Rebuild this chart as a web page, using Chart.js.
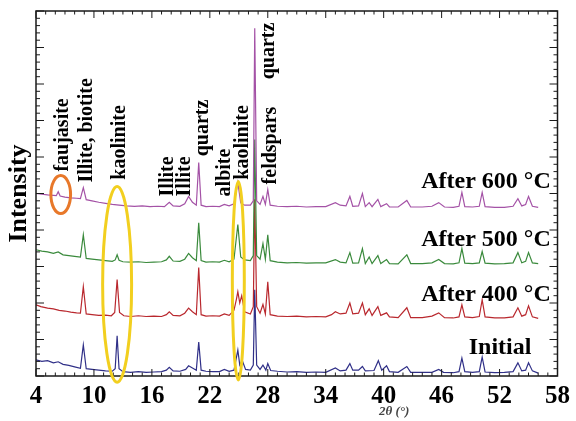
<!DOCTYPE html>
<html>
<head>
<meta charset="utf-8">
<script src="https://cdn.jsdelivr.net/npm/chart.js@4"></script>
<style>
  body { margin: 0; background: #fff; }
  #wrap { width: 576px; height: 421px; }
</style>
</head>
<body>
<div id="wrap"><canvas id="xrd" width="576" height="421"></canvas></div>
<script>
// 2θ (°) / intensité relative
const xTicks = [4, 10, 16, 22, 28, 34, 40, 46, 52, 58];
const seriesNames = ["After 600 °C", "After 500 °C", "After 400 °C", "Initial"];

const initialData = [[4,4.4],[4.6,4.0],[5.2,4.2],[5.8,3.6],[6.3,3.9],[6.8,3.2],[7.4,2.9],[8.0,2.5],[8.6,2.1],[8.9,8.5],[9.2,2.0],[9.8,1.8],[10.5,1.6],[11.2,1.4],[11.9,1.3],[12.2,2.0],[12.4,11.0],[12.6,2.0],[13.0,1.2],[13.8,1.0],[14.6,1.2],[15.4,1.0],[16.2,1.1],[17.0,1.2],[17.5,1.6],[17.8,2.4],[18.2,1.4],[18.9,1.3],[19.5,1.8],[19.8,2.8],[20.2,2.2],[20.6,1.6],[20.85,9.3],[21.1,1.6],[21.6,1.3],[22.3,1.2],[23.0,1.2],[23.5,1.8],[24.0,1.3],[24.5,1.6],[24.9,7.1],[25.1,3.0],[25.35,4.3],[25.7,1.8],[26.2,1.6],[26.5,3.0],[26.65,23.6],[26.85,3.0],[27.2,1.8],[27.5,3.0],[27.8,1.6],[28.0,3.4],[28.3,1.5],[29.0,1.3],[30.0,1.1],[31.0,1.2],[32.0,1.0],[33.0,1.1],[34.0,1.0],[35.0,2.2],[35.5,1.4],[36.1,1.6],[36.5,3.4],[36.8,1.6],[37.4,1.6],[37.8,2.6],[38.1,1.4],[39.0,1.5],[39.45,4.2],[39.8,1.6],[40.3,2.8],[40.6,1.2],[41.5,1.0],[42.4,2.6],[42.8,1.0],[44.0,1.0],[45.0,1.0],[45.7,1.8],[46.2,1.0],[47.2,0.9],[47.8,1.2],[48.1,4.9],[48.4,1.2],[49.2,1.0],[49.9,1.2],[50.2,5.2],[50.5,1.1],[51.5,0.9],[52.5,1.0],[53.4,1.2],[53.9,3.6],[54.3,1.4],[54.7,1.6],[55.0,3.6],[55.4,1.4],[56.0,0.8]];

const after400Data = [[4,19.5],[4.5,19.0],[5.2,18.6],[5.8,18.4],[6.4,18.0],[7.0,17.8],[7.6,17.5],[8.2,17.3],[8.6,17.2],[8.9,24.5],[9.2,17.0],[9.8,16.8],[10.5,16.6],[11.2,16.7],[11.8,16.5],[12.15,17.4],[12.4,26.4],[12.65,17.4],[13.1,16.5],[13.8,16.3],[14.6,16.5],[15.4,16.3],[16.2,16.4],[17.0,16.3],[17.5,16.8],[17.8,17.6],[18.2,16.6],[18.9,16.5],[19.4,17.2],[19.8,18.6],[20.2,17.6],[20.6,16.8],[20.85,29.7],[21.1,16.8],[21.6,16.4],[22.3,16.5],[23.0,16.4],[23.5,17.0],[24.0,16.6],[24.5,18.0],[24.75,21.0],[24.9,23.1],[25.1,20.0],[25.3,22.0],[25.6,17.6],[26.2,17.0],[26.5,19.0],[26.65,48.4],[26.85,19.0],[27.2,17.2],[27.5,19.6],[27.75,17.0],[28.0,25.8],[28.25,16.8],[29.0,16.4],[30.0,16.3],[31.0,16.4],[32.0,16.2],[33.0,16.3],[34.0,16.2],[34.6,16.8],[35.0,17.6],[35.5,17.0],[36.1,17.2],[36.5,20.0],[36.8,17.0],[37.4,17.2],[37.8,20.0],[38.1,16.8],[38.5,18.4],[38.8,16.6],[39.4,19.0],[39.7,16.6],[40.3,17.3],[40.6,16.2],[41.5,16.0],[42.4,18.7],[42.8,16.0],[44.0,16.0],[45.0,16.4],[45.7,17.3],[46.3,16.0],[47.2,15.9],[47.8,16.2],[48.1,19.5],[48.4,16.2],[49.2,16.0],[49.9,16.3],[50.2,20.9],[50.5,16.2],[51.5,15.9],[52.5,15.9],[53.4,16.2],[53.9,18.7],[54.3,16.4],[54.7,16.8],[55.0,19.2],[55.4,16.2],[56.0,15.8]];

const after500Data = [[4,34.6],[4.6,34.2],[5.2,34.0],[5.8,33.6],[6.3,34.0],[6.8,33.2],[7.4,33.0],[8.0,32.8],[8.6,32.6],[8.9,38.7],[9.2,32.2],[9.8,32.0],[10.5,31.8],[11.2,31.6],[11.9,31.4],[12.2,31.8],[12.4,33.2],[12.6,31.7],[13.0,31.3],[13.8,31.2],[14.6,31.3],[15.4,31.1],[16.2,31.2],[17.0,31.3],[17.5,31.8],[17.8,32.8],[18.2,31.5],[18.9,31.4],[19.4,32.0],[19.8,33.6],[20.2,32.4],[20.6,31.6],[20.85,42.0],[21.1,31.6],[21.6,31.2],[22.3,31.3],[23.0,31.2],[23.5,31.7],[24.0,31.3],[24.5,32.0],[24.9,41.5],[25.2,32.6],[25.6,31.8],[26.2,31.6],[26.5,33.0],[26.65,64.8],[26.85,33.0],[27.2,32.0],[27.5,36.3],[27.75,32.0],[28.0,38.7],[28.25,31.6],[29.0,31.2],[30.0,31.0],[31.0,31.1],[32.0,30.9],[33.0,31.0],[34.0,31.0],[35.0,31.9],[35.5,31.2],[36.1,31.0],[36.5,33.8],[36.8,30.9],[37.4,31.0],[37.8,34.9],[38.1,30.8],[38.5,32.6],[38.8,30.8],[39.4,33.0],[39.7,30.8],[40.3,31.9],[40.6,30.8],[41.5,30.7],[42.4,33.2],[42.8,30.8],[44.0,30.8],[45.0,31.0],[45.7,31.9],[46.3,30.8],[47.2,30.7],[47.8,31.0],[48.1,34.9],[48.4,30.9],[49.2,30.8],[49.9,31.0],[50.2,34.1],[50.5,30.9],[51.5,30.7],[52.5,30.8],[53.4,31.0],[53.9,33.8],[54.3,31.0],[54.7,31.4],[55.0,33.8],[55.4,31.0],[56.0,30.8]];

const after600Data = [[4,50.0],[4.6,49.8],[5.2,49.6],[5.8,49.5],[6.1,49.4],[6.3,50.5],[6.5,49.3],[7.0,49.0],[7.6,48.8],[8.2,48.7],[8.6,48.6],[8.9,51.6],[9.2,48.3],[9.8,48.0],[10.5,47.6],[11.2,47.3],[11.9,47.0],[12.6,46.8],[13.4,46.6],[14.2,46.5],[15.0,46.6],[15.8,46.4],[16.6,46.5],[17.3,46.4],[17.8,47.6],[18.2,46.6],[18.9,46.5],[19.4,47.2],[19.8,49.2],[20.2,47.6],[20.6,46.8],[20.85,58.5],[21.1,46.8],[21.6,46.4],[22.3,46.5],[23.0,46.4],[23.5,47.0],[24.0,46.6],[24.5,47.2],[24.9,53.0],[25.2,47.4],[25.6,46.8],[26.2,46.8],[26.5,48.0],[26.65,95.3],[26.85,48.0],[27.2,47.0],[27.5,49.2],[27.75,47.0],[28.0,51.1],[28.25,46.8],[29.0,46.5],[30.0,46.4],[31.0,46.5],[32.0,46.3],[33.0,46.4],[34.0,46.4],[35.0,47.5],[35.5,46.8],[36.1,46.6],[36.5,49.2],[36.8,46.5],[37.4,46.6],[37.8,50.0],[38.1,46.4],[38.5,47.5],[38.8,46.4],[39.4,48.4],[39.7,46.4],[40.3,47.2],[40.6,46.3],[41.5,46.3],[42.4,48.1],[42.8,46.3],[44.0,46.3],[45.0,46.5],[45.7,47.5],[46.3,46.3],[47.2,46.2],[47.8,46.5],[48.1,50.3],[48.4,46.4],[49.2,46.3],[49.9,46.5],[50.2,50.3],[50.5,46.4],[51.5,46.2],[52.5,46.2],[53.4,46.5],[53.9,48.6],[54.3,46.6],[54.7,47.0],[55.0,49.2],[55.4,46.5],[56.0,46.2]];

// étiquettes des phases (texte vertical) : [texte, 2θ, intensité du bas du texte]
const phaseLabels = [
  ["faujasite", 6.77, 56.0],
  ["Illite, biotite", 9.23, 53.0],
  ["kaolinite", 12.7, 53.8],
  ["Illite", 17.7, 49.2],
  ["Illite", 19.4, 49.2],
  ["quartz", 21.3, 60.2],
  ["albite", 23.6, 49.2],
  ["kaolinite", 25.4, 53.8],
  ["quartz", 28.1, 81.3],
  ["feldspars", 28.3, 52.5]
];
// noms des courbes : [texte, 2θ du bord droit, intensité]
const curveLabels = [
  [seriesNames[0], 57.3, 53.3],
  [seriesNames[1], 57.3, 37.4],
  [seriesNames[2], 57.3, 22.3],
  [seriesNames[3], 55.3, 7.7]
];
// ellipses : [centre 2θ, centre intensité, rayon 2θ, rayon intensité, couleur]
const ellipses = [
  [6.56, 49.7, 1.02, 5.2, '#e8782a'],
  [12.4, 25.1, 1.5, 26.8, '#f2cf1f'],
  [24.95, 26.1, 0.62, 27.2, '#f2cf1f']
];

const serif = "'Liberation Serif', 'DejaVu Serif', serif";

const toXY = arr => arr.map(p => ({ x: p[0], y: p[1] }));

const decorPlugin = {
  id: 'decor',
  afterDatasetsDraw(chart) {
    const { ctx, chartArea: a, scales: { x, y } } = chart;
    ctx.save();

    // cadre + graduations vers l'intérieur
    ctx.strokeStyle = '#1a1a1a';
    ctx.lineWidth = 1.5;
    ctx.strokeRect(a.left, a.top, a.right - a.left, a.bottom - a.top);
    ctx.lineWidth = 1;
    ctx.beginPath();
    for (let v = 4; v <= 58; v += 1) {
      const px = x.getPixelForValue(v);
      const len = (v - 4) % 6 === 0 ? 7 : 3.5;
      ctx.moveTo(px, a.bottom); ctx.lineTo(px, a.bottom - len);
      ctx.moveTo(px, a.top); ctx.lineTo(px, a.top + len);
    }
    for (let v = 0; v <= 100; v += 2) {
      const py = y.getPixelForValue(v);
      const len = v % 10 === 0 ? 8 : 4;
      ctx.moveTo(a.left, py); ctx.lineTo(a.left + len, py);
      ctx.moveTo(a.right, py); ctx.lineTo(a.right - len, py);
    }
    ctx.stroke();

    // ellipses
    ctx.lineWidth = 3;
    ellipses.forEach(e => {
      const cx = x.getPixelForValue(e[0]);
      const cy = y.getPixelForValue(e[1]);
      const rx = Math.abs(x.getPixelForValue(e[0] + e[2]) - cx);
      const ry = Math.abs(y.getPixelForValue(e[1] + e[3]) - cy);
      ctx.strokeStyle = e[4];
      ctx.beginPath();
      ctx.ellipse(cx, cy, rx, ry, 0, 0, Math.PI * 2);
      ctx.stroke();
    });

    // étiquettes verticales
    ctx.fillStyle = '#000';
    ctx.font = 'bold 20px ' + serif;
    ctx.textAlign = 'left';
    ctx.textBaseline = 'middle';
    phaseLabels.forEach(l => {
      ctx.save();
      ctx.translate(x.getPixelForValue(l[1]), y.getPixelForValue(l[2]));
      ctx.rotate(-Math.PI / 2);
      ctx.fillText(l[0], 0, 0);
      ctx.restore();
    });

    // noms des courbes
    ctx.font = 'bold 24px ' + serif;
    ctx.textAlign = 'right';
    curveLabels.forEach(l => {
      ctx.fillText(l[0], x.getPixelForValue(l[1]), y.getPixelForValue(l[2]));
    });

    // titre de l'axe x
    ctx.font = 'italic bold 13px ' + serif;
    ctx.fillStyle = '#444';
    ctx.textAlign = 'left';
    ctx.fillText('2θ (°)', 379, 412);
    ctx.restore();
  }
};

new Chart(document.getElementById('xrd'), {
  type: 'line',
  data: {
    datasets: [
      { label: seriesNames[0], data: toXY(after600Data), borderColor: '#a452a6' },
      { label: seriesNames[1], data: toXY(after500Data), borderColor: '#3a8a3c' },
      { label: seriesNames[2], data: toXY(after400Data), borderColor: '#b9282e' },
      { label: seriesNames[3], data: toXY(initialData), borderColor: '#303088' }
    ].map(d => Object.assign(d, { borderWidth: 1.2, pointRadius: 0, tension: 0, fill: false }))
  },
  options: {
    responsive: false,
    animation: false,
    layout: { padding: { top: 11, right: 13, left: 0, bottom: 0 } },
    plugins: { legend: { display: false }, tooltip: { enabled: false } },
    scales: {
      x: {
        type: 'linear',
        min: 4,
        max: 58,
        grid: { display: false, drawTicks: false },
        border: { display: false },
        afterBuildTicks: scale => { scale.ticks = xTicks.map(v => ({ value: v })); },
        afterFit: scale => { scale.height = 45; },
        ticks: {
          color: '#000',
          padding: 6,
          maxRotation: 0,
          autoSkip: false,
          font: { family: serif, size: 25, weight: 'bold' }
        }
      },
      y: {
        min: 0,
        max: 100,
        grid: { display: false, drawTicks: false },
        border: { display: false },
        ticks: { display: false },
        afterFit: scale => { scale.width = 36; },
        title: {
          display: true,
          text: 'Intensity',
          color: '#000',
          font: { family: serif, size: 26, weight: 'bold' }
        }
      }
    }
  },
  plugins: [decorPlugin]
});
</script>
</body>
</html>
